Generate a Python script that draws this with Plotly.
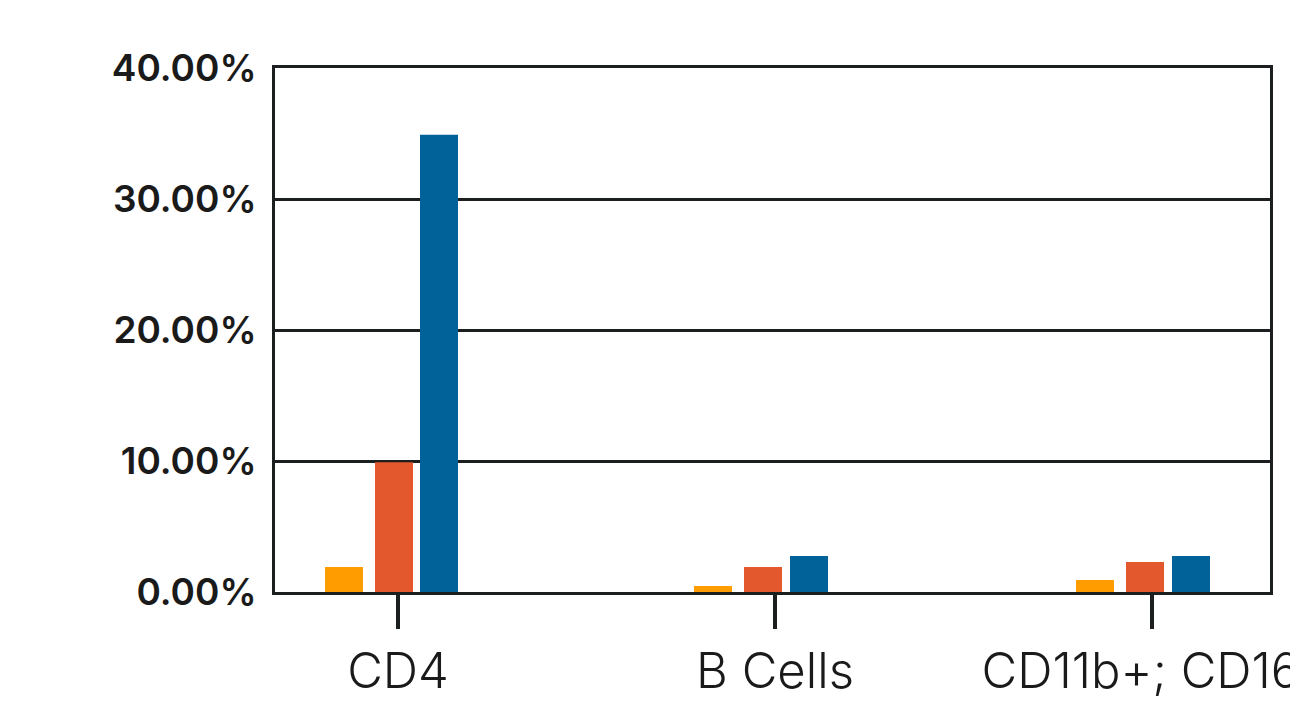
import plotly.graph_objects as go

# Cell populations shown on the category axis
categories = ["CD4", "B Cells", "CD11b+; CD16-"]

# Percentage of cells per population, one list per series
series_orange = [1.9, 0.46, 0.92]
series_red = [9.9, 1.91, 2.29]
series_blue = [34.9, 2.75, 2.75]

y_ticks = [0, 10, 20, 30, 40]
y_tick_labels = [f"{v:.2f}%" for v in y_ticks]

INK = "#1b1f1f"
PX_PER_CAT = 377.0  # horizontal pixels between neighbouring categories


def px(v):
    """Convert a pixel distance into category-axis units."""
    return v / PX_PER_CAT


bar_width = px(38)

fig = go.Figure()
fig.add_trace(go.Bar(
    x=categories, y=series_orange, marker_color="#FF9C00",
    width=bar_width, offset=[px(-73), px(-81), px(-76)],
    marker_line_width=0, showlegend=False,
))
fig.add_trace(go.Bar(
    x=categories, y=series_red, marker_color="#E4582E",
    width=bar_width, offset=[px(-23), px(-31), px(-26)],
    marker_line_width=0, showlegend=False,
))
fig.add_trace(go.Bar(
    x=categories, y=series_blue, marker_color="#006299",
    width=bar_width, offset=[px(22), px(15), px(20)],
    marker_line_width=0, showlegend=False,
))

fig.update_layout(
    width=1290, height=701,
    margin=dict(l=275, r=20, t=68, b=109, pad=0),
    paper_bgcolor="white", plot_bgcolor="white",
    barmode="overlay",
    font=dict(family="Inter", color="#1a1a1a"),
)

fig.update_xaxes(
    type="category", automargin=False,
    range=[px(275 - 398), 2 + px(1270 - 1152)],
    showline=True, linecolor=INK, linewidth=3, mirror=True,
    showgrid=False, zeroline=False,
    ticks="outside", ticklen=34, tickwidth=4, tickcolor=INK,
    tickfont=dict(family="Inter", size=49, color="#1a1a1a", weight=300),
)

fig.update_yaxes(
    automargin=False,
    range=[0, 40],
    tickmode="array", tickvals=y_ticks, ticktext=y_tick_labels,
    showline=True, linecolor=INK, linewidth=3, mirror=True,
    showgrid=True, gridcolor=INK, gridwidth=3,
    zeroline=False, ticks="", ticklabelstandoff=8,
    tickfont=dict(family="Inter", size=37, color="#1a1a1a", weight=600),
)

fig.write_html("out.html")
